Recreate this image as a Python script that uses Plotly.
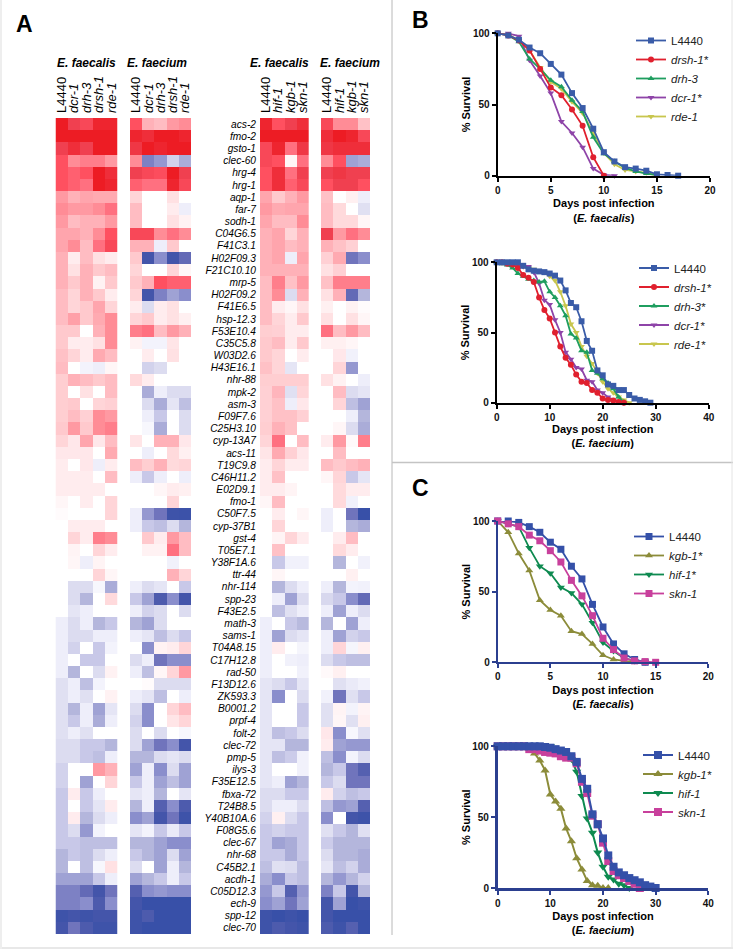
import plotly.graph_objects as go

W = 733
H = 949

genes = ['acs-2', 'fmo-2', 'gsto-1', 'clec-60', 'hrg-4', 'hrg-1', 'aqp-1', 'far-7', 'sodh-1', 'C04G6.5',
         'F41C3.1', 'H02F09.3', 'F21C10.10', 'mrp-5', 'H02F09.2', 'F41E6.5', 'hsp-12.3', 'F53E10.4', 'C35C5.8',
         'W03D2.6', 'H43E16.1', 'nhr-88', 'mpk-2', 'asm-3', 'F09F7.6', 'C25H3.10', 'cyp-13A7', 'acs-11',
         'T19C9.8', 'C46H11.2', 'E02D9.1', 'fmo-1', 'C50F7.5', 'cyp-37B1', 'gst-4', 'T05E7.1', 'Y38F1A.6',
         'ttr-44', 'nhr-114', 'spp-23', 'F43E2.5', 'math-3', 'sams-1', 'T04A8.15', 'C17H12.8', 'rad-50',
         'F13D12.6', 'ZK593.3', 'B0001.2', 'prpf-4', 'folt-2', 'clec-72', 'pmp-5', 'ilys-3', 'F35E12.5',
         'fbxa-72', 'T24B8.5', 'Y40B10A.6', 'F08G5.6', 'clec-67', 'nhr-68', 'C45B2.1', 'acdh-1', 'C05D12.3',
         'ech-9', 'spp-12', 'clec-70']

rnai_cols = ['L4440', 'dcr-1', 'drh-3', 'drsh-1', 'rde-1']
tf_cols = ['L4440', 'hif-1', 'kgb-1', 'skn-1']

# expression, -10 (blue) .. 10 (red)
faecalis_rnai = [
    [10, 8, 7.5, 9.5, 9.5], [10, 10, 10, 10, 10], [8, 9, 8, 10, 10], [7, 5, 5.5, 5.5, 4.5], [7, 6.5, 7, 10, 9],
    [7, 6.5, 6, 10, 9.5], [4.5, 3.5, 4, 3.8, 3.8], [5, 4.5, 4.5, 5, 6], [4.5, 3, 3.5, 3.5, 4.5], [4, 4, 3.5, 5, 7],
    [4, 5, 3, 6, 7.5], [3.5, 1, 3, 1.5, 1], [3.5, 1.5, 3.5, 2.5, 3], [3.5, 2.5, 3.5, 0.7, 2.5], [3, 2, 3.5, 2.5, 1],
    [3, 2, 2.5, 4, 2], [3, 4.2, 2.5, 3.8, 5], [2.5, 2.5, 0, 3.5, 5], [2.5, 1, 1, 1.5, 5], [2.8, 2, 1, 3.8, 3],
    [3, 0, -0.7, -1, 0.5], [2.3, 3.5, 3, 2.5, 3], [2.3, 0, 1.5, 0, 3], [2.3, 2.5, 0, 2, 2.2], [2.3, 3, 2.2, 5, 4.5],
    [2.5, 4.5, 2.5, 5, 5.5], [2, 1.2, 4, 1.2, 3], [1.2, 1.2, 1.2, 0, 3.8], [1, 0, 1.2, -1, 1], [1, 1, 1, 0, 3],
    [1, 1, 1, 1, 0], [0.5, 0, 1, 0, 2], [0.2, 0, 0, 0, 2], [0, 1, 1, 1, 0], [0, 2, 1, 5.5, 5],
    [0, 0.6, 0, 2, 1], [0, 0.5, -1, 0.6, 0], [0, 0, 0, 2, 0.5], [0, -2, -2, -0.5, -4.5], [0, -2, -4, 0, 1.8],
    [0, -1.5, -1, 0, 0], [-1, -2, -1, -4, -3], [-1, -2, -2, -1, -1], [-1, -2.5, 0, -3, -0.7], [-1, 0, -3, -3, 0],
    [-1, -4, 0, -2, 0.7], [-1.8, -1, -3.5, -0.7, 0], [-1.8, -1, -1.8, 0, 0.7], [-1.8, -4, -1, -5, -1.5],
    [-1.8, -3, -1, -4.5, -1], [-1.8, -1, -1.8, 0, 0], [-2, -2, -3, -3, -4], [-2, -2, -3, -3.5, -1],
    [-2.5, 0, 0, 4.5, 3.5], [-2.5, 0, -5, 0, 2], [-3, 1, -3, -1, 0], [-3, 0, -3, -1.5, 1], [-3, 1, -4, -2, -1],
    [-3, -2, -5.5, -0.7, 0], [-3, -3, -3.5, -3.5, -3.5], [-4, -3, -3.5, -2, -1], [-4, 0, -3.5, -0.5, 1.5],
    [-5, -5, -5, -3, -1], [-6.5, -6.5, -7.5, -9, -7], [-6.5, -6.5, -6, -8.5, -6], [-9.5, -9, -9.5, -9, -9],
    [-9, -7, -8.5, -9.5, -9.5]]

faecium_rnai = [
    [7, 3.5, 3, 4.5, 5], [9.5, 9, 10, 10, 9.5], [8.5, 10, 9.5, 10, 10], [5, -6.5, -5.5, -2.5, -4.5], [8, 7.5, 7.2, 10, 8],
    [6.5, 6, 6, 9.5, 7.5], [2, 0, 0, 1.5, 0], [3, 0, 0, 1, -1], [3, 0, 0, 1.5, 0.7], [7.5, 7.5, 5, 6, 5],
    [3.5, 3.5, -1, 2.5, 0], [2.5, -9, -6, -9, -7.5], [2, 0, 0, 2, 0.5], [2.5, 3.5, 7, 6.5, 6.5], [2, -9, -6.5, -5, -6],
    [1, -2, 1, 1.5, 0], [2, 2.5, 1, 1.5, 0.8], [5.5, 6, 3, 4.5, 3.5], [0.7, -0.7, -0.7, 1.3, 0], [0, 1, 0, 1.5, 0],
    [0, -2.5, -2, 0, 0], [1.8, 1, 0, 0, 0], [0, -4.5, -1, -2, -2], [0, -2, -4.5, -1.5, -3.5], [0, -1, -3, 0, -2],
    [0, -0.5, -4.5, 0, -2], [1.3, 0, 3.5, 3.5, 1.2], [0, -1, 0, 1.8, 0.8], [3, 2.3, 3.5, 1.8, 2], [-1, -3, -1, 0, -1],
    [0, 0, 0.5, 1, 0.8], [0, 0, 0, 2, 0], [-1, -5.5, -7, -9.5, -9.7], [-1, -3, -3.5, -2, -4], [0, 2.5, 1, 4.5, 3],
    [0, 0.7, 0.7, 6, 3], [0, 0, 0, -0.8, 0], [0, 0, 0, 3.5, 2], [-1, -2, -1.5, 0, -3], [-3, -5, -8.5, -6, -9],
    [-1, -2.5, -2, 0, -2], [-4, -5, -2, 0, 0], [-1, -1.5, -3.5, -2, -3], [0, -6, 0.7, 1, 2], [-2, -1, -7, -6, -6],
    [-1, -3.5, 0.5, 2, 4.5], [0, 0.2, -2, -2, -2], [-1, -1.5, -3.5, 0, -1], [-2, -6, 0, 2, 3], [-2.5, -6, 0, 1.3, 2],
    [-2, 0, -2, 0, -0.5], [-2, -5, -7, -6, -9], [-4, -4, -2, -1.5, -2], [-5, -1, -6, -2, -5], [-3, -1, -5, -3.5, -5],
    [-1.5, -1, -4, 0, -1.5], [-4, -1, -8, -6, -8.5], [-6, -5, -9, -7, -9.5], [-1.5, -0.7, -3, -1.2, -3],
    [-4, -4, -5, -6, -6], [-3, -4, -5, -2, -5], [-2, 0, -5, -1, -4], [-5, -4, -3, -1, -3], [-8, -6, -5.5, -6, -6],
    [-9, -10, -10, -10, -10], [-9.5, -8.5, -10, -10, -10], [-9.5, -10, -10, -10, -10]]

faecalis_tf = [
    [9.5, 7, 8, 9], [10, 10, 10, 10], [7.5, 9.5, 6, 8.5], [7.5, 7, 0.5, 6], [7, 9, 6, 8],
    [7, 9, 6.5, 7.5], [4, 2.5, 3.5, 4.5], [4.5, 3.8, 4, 4], [4, 3, 3, 5], [3.5, 4, 2, 3.5],
    [3.5, 4, 3, 3.5], [3.5, 4, -1, 4], [3.5, 3.5, 3.5, 3.5], [3, 5.5, 2.8, 4.5], [3, 5, -2, 3.5],
    [3, 1, 0.5, 1.5], [3, 2, 1, 2.5], [2.3, 2.2, 1, 1], [2.5, 3, 1, 2.5], [2.5, 2, 0, 1],
    [2.8, 2, -1.5, 0], [2.3, 2.3, 2.3, 2.3], [2.2, 3.3, -1.8, 2], [2.2, 2.8, -1, 1.2], [2.2, 2.8, 2.8, 2.2],
    [2.3, 3.5, 2.8, 0], [2, 6, 0, 3], [1.3, 3.8, 2.2, 1.2], [1, 2, 1, 1], [1, 2.8, 0, 0],
    [1, 1, 0.6, 0], [0.5, 3, 0, 0], [0, 1, 0, 0.5], [0, 2, 0, 0], [0, 0.6, 2, 1],
    [0, 2.8, 0, 0], [0, -3, -0.8, -0.8], [0, 0.5, 0, 0], [0, -4, -2, -1], [0, -1, -5, -2],
    [0, -3.5, -1.8, -1], [-1, 0, -3, -3.8], [-1, -5, -2, -1.5], [-1, 1, 0, -0.6], [-1, 0, -0.8, -1],
    [-1, 0, 0, -0.8], [-1.5, -2, -3, -1.5], [-1.5, -6, 0, -2], [-1.5, 0, 0, -3], [-1.5, 0, 0, -3],
    [-1.5, -3.5, -3, -2], [-1.5, -1.5, -4, -4], [-1.5, -3.5, -2.8, -0.8], [-1.5, 0, 0, -0.8], [-1.5, -1, -5, -4],
    [-2, -2, -3, -3], [-2, -1, -1, -2], [-2.5, 0.8, -2, -3], [-3, -2.5, -3, -3], [-3, -5, -4.5, -3],
    [-3, -3, -4.5, -3], [-3.5, -1.8, -2, -3.5], [-4.5, -6, -3, -3.5], [-5.5, -3, -8, -5.5], [-6, -5, -7, -5],
    [-9.5, -10, -9.5, -10], [-9.5, -8.5, -9, -9.5]]

faecium_tf = [
    [7.5, 5, 5, 2.8], [9, 10, 9.5, 7.5], [8.5, 9, 9, 9], [5, 7, -5, -4.5], [8, 8.5, 8, 8],
    [7, 8, 8, 7], [2.8, 0, 0.8, -1], [3, 1.8, 0, -1.8], [3, 1.8, 1.8, 0.5], [8, 4.5, 6, 5],
    [3.5, 2.8, 2.2, 0], [2.2, 3.8, -7, -6], [1.5, 2.2, 0, 0], [2.8, 5.5, 5.5, 5.5], [1.5, 3.5, -7.5, -4],
    [0.8, 0, 0.7, 0.2], [1.5, 0, 1.5, 0.5], [6, 3, 4.5, 3], [0.8, 0.8, 0.5, 0], [0, 1.2, -0.8, 0],
    [0, 2, -5.5, 0], [1.5, 0.7, 0, -1], [0, 3, -2, -1.5], [0, 2, -3.5, -5], [0, 0, -1, -4],
    [0, 0.5, -2, -4.5], [1, 4.5, 0.3, 5.5], [0, 3, 0, 0], [3, 2.5, 3, 3.5], [0.5, 2, -3, -1.5],
    [0, 1.8, 1, 1], [0, 1.8, -0.8, 0], [-1, 0, -7, -10], [-1, 0, -4, -4.5], [0, 1, 3, 0],
    [0, 1.8, 1, 0], [0, -4, 0, -0.8], [0, 0, 0.8, 0], [-1, -4, -0.7, -0.8], [-2.2, -3, -6, -7.5],
    [-1, -5, -1, -2], [-4, 0, -5, -1], [-1, -5, -2.5, -3], [-1, 2, -0.6, 0.8], [-2, -3, -3.5, -3.5],
    [0.3, 0.8, 0, 0], [0, -1.8, -1.2, -0.8], [-0.8, -7, -1.8, -3], [-1.8, 0.6, -0.7, 0.6], [-1.8, 0.5, -1.8, 0.8],
    [1.2, -6, -0.5, -1.8], [1, -5, -5.5, -5.5], [-3.5, -6, -0.7, -2], [-4, -3, -7, -8], [-3, -2, -7, -7],
    [1, -2.5, -3.5, -3], [-3.5, -5.5, -5, -8], [-6, 0, -9, -9.5], [-1.8, -3, -4, -1.8], [-2.8, -4, -4, -4],
    [-2, -4, -4, -4.5], [-1.5, -3.5, -2.5, -4.5], [-4, -5.5, -4, -2.5], [-6.5, -3, -9, -4], [-9, -5, -10, -9.5],
    [-9, -10, -10, -10], [-8.5, -9.5, -8, -10]]

# survival curves, one value per day from day 0
b1_l4440 = [100, 98.5, 95.5, 90, 86, 78.5, 71, 58, 47.5, 33, 16.5, 10, 6, 5, 3.5, 1, 0.5, 0]
b1_drsh = [100, 98.5, 95, 88, 75, 62, 56.5, 46.5, 35, 13, 0]
b1_drh3 = [100, 98.5, 94, 82, 75, 67, 62.5, 53, 45, 27, 15.5, 10, 5.5, 3, 1.5, 0.5]
b1_dcr = [100, 100, 98, 81, 70, 58, 38, 30, 20, 5, 0.5, 0]
b1_rde = [100, 99, 95, 88, 76, 66, 61, 52, 44, 30, 16, 8, 4, 3, 2, 0]

b2_l4440 = [100, 100, 100, 100, 100, 97.5, 95, 94, 93.5, 93, 92, 90.5, 87, 80, 71, 68, 58, 44, 37, 23, 19.5, 13, 12, 9, 9,
            5.5, 3, 2, 1, 0]
b2_drsh = [100, 100, 99, 98.5, 96, 91, 89, 86, 75, 66, 60, 50, 40, 32, 27, 20, 15, 14, 9, 7, 3, 2, 1.5, 0.5, 0]
b2_drh3 = [100, 99, 98, 96, 92, 90, 88, 87, 86, 86.5, 79, 75, 69, 62, 49, 46, 37, 36, 23, 21, 17, 14, 10, 4, 0.5]
b2_dcr = [100, 100, 100, 99, 98, 97, 97, 93, 85, 73, 70, 59, 50, 36, 31, 25, 24, 16, 15, 9, 7, 4, 2, 1, 0]
b2_rde = [100, 100, 100, 99, 98, 97, 96, 95, 94, 93, 90, 87, 79, 69, 56, 50, 40, 33, 28, 21, 15, 10, 7, 4, 2, 0]

c1_l4440 = [100, 100, 99, 96, 92, 85, 80, 68, 59, 41, 25, 13, 6, 2, 0]
c1_kgb = [100, 92, 77, 65, 44, 37, 33, 22, 20, 13, 5, 2, 1, 0]
c1_hif = [100, 98, 96, 81, 68, 63, 53, 49, 41, 28, 14, 8, 3, 1, 0]
c1_skn = [100, 98, 96, 90, 86, 79, 71, 58, 47, 33, 17, 9, 3, 1, 0.5, 0]

c2_l4440 = [100, 100, 100, 100, 100, 100, 100, 100, 100, 99.5, 99, 98, 97, 96, 93, 89, 77, 70, 52, 45, 35, 23, 15, 11, 9,
            7, 5.5, 4, 2, 1, 0]
c2_kgb = [100, 100, 100, 100, 100, 100, 98.5, 95, 90, 83, 66, 61, 56, 42, 33, 21, 13, 5, 2, 1.5, 0, 0]
c2_hif = [100, 100, 100, 100, 100, 100, 100, 100, 100, 100, 100, 98, 96.5, 94, 91, 82, 65, 49, 39, 25, 15, 8, 6, 3, 2, 0]
c2_skn = [100, 100, 100, 100, 100, 100, 98, 98, 97, 96, 95.5, 95, 93, 92, 92, 88, 75, 67, 51, 45, 32, 19, 12, 9, 7, 5, 3, 0]

colorscale = [[0.0, '#3850a8'], [0.05, '#4455aa'], [0.1, '#5560b0'], [0.15, '#7074bc'], [0.2, '#8a8ecc'],
              [0.25, '#9fa2d4'], [0.3, '#b4b6dc'], [0.35, '#c8c8e8'], [0.4, '#dcdcf0'], [0.45, '#eeeefa'],
              [0.5, '#ffffff'], [0.55, '#ffecee'], [0.6, '#ffd5d8'], [0.65, '#ffbcc2'], [0.7, '#ffa5ad'],
              [0.75, '#ff8c96'], [0.8, '#ff7080'], [0.85, '#ff5060'], [0.9, '#f04050'], [1.0, '#ed1c24']]


def px_x(x):
    return x / W


def px_y(y):
    return 1 - y / H


def ital(name):
    return name if name == 'L4440' else '<i>' + name + '</i>'


fig = go.Figure()
layout = {}
FONT = 'Liberation Sans, Arial, sans-serif'

heatmaps = [
    (faecalis_rnai, rnai_cols, 55.5, 117.5, False),
    (faecium_rnai, rnai_cols, 130, 191, False),
    (faecalis_tf, tf_cols, 260, 308.7, True),
    (faecium_tf, tf_cols, 321, 370, False),
]

for i, (z, cols, x0, x1, show_genes) in enumerate(heatmaps):
    n = i + 1
    suffix = '' if n == 1 else str(n)
    fig.add_trace(go.Heatmap(z=z, x=cols, y=genes, xaxis='x' + suffix, yaxis='y' + suffix,
                             colorscale=colorscale, zmin=-10, zmax=10, showscale=False))
    layout['xaxis' + suffix] = dict(domain=[px_x(x0), px_x(x1)], anchor='y' + suffix, side='top', type='category',
                                    tickvals=cols, ticktext=[ital(c) for c in cols], tickangle=-90,
                                    tickfont=dict(size=13, color='black', family=FONT), ticklen=0,
                                    showgrid=False, zeroline=False, showline=False, ticklabelstandoff=4)
    layout['yaxis' + suffix] = dict(domain=[px_y(934), px_y(118)], anchor='x' + suffix, type='category',
                                    autorange='reversed', showgrid=False, zeroline=False, showline=False,
                                    showticklabels=show_genes, tickmode='array', tickvals=genes,
                                    ticktext=[ital(g) for g in genes], ticklen=0, ticklabelstandoff=3,
                                    tickfont=dict(size=10.2, color='black', family=FONT))

# survival panels
BLUE_B = '#3a5ca8'
RED = '#e0202e'
GREEN = '#1f9e5f'
PURPLE = '#8e44a8'
YELLOW = '#c8c64e'
BLUE_C = '#3450a8'
OLIVE = '#8c8c3a'
DKGREEN = '#0e8a50'
MAGENTA = '#c8409c'

panels = [
    dict(box=(497.7, 710, 175.7, 33.3), xmax=20, dtick=5, line='black', species='E. faecalis', legend=(631, 26), standoff=5,
         msize=6, lw=1.8, axw=2,
         series=[('rde-1', b1_rde, YELLOW, 'triangle-down', 5), ('dcr-1*', b1_dcr, PURPLE, 'triangle-down', 4),
                 ('drh-3', b1_drh3, GREEN, 'triangle-up', 3), ('drsh-1*', b1_drsh, RED, 'circle', 2),
                 ('L4440', b1_l4440, BLUE_B, 'square', 1)]),
    dict(box=(496.7, 708.7, 402.7, 262.3), xmax=40, dtick=10, line='black', species='E. faecium', legend=(634, 253.5), standoff=2,
         msize=6, lw=1.8, axw=2,
         series=[('rde-1*', b2_rde, YELLOW, 'triangle-down', 5), ('dcr-1*', b2_dcr, PURPLE, 'triangle-down', 4),
                 ('drh-3*', b2_drh3, GREEN, 'triangle-up', 3), ('drsh-1*', b2_drsh, RED, 'circle', 2),
                 ('L4440', b2_l4440, BLUE_B, 'square', 1)]),
    dict(box=(497.7, 708.3, 662.3, 521), xmax=20, dtick=5, line='#2b3f8f', species='E. faecalis', legend=(629, 522), standoff=5,
         msize=7, lw=1.8, axw=2,
         series=[('kgb-1*', c1_kgb, OLIVE, 'triangle-up', 2), ('hif-1*', c1_hif, DKGREEN, 'triangle-down', 3),
                 ('L4440', c1_l4440, BLUE_C, 'square', 1), ('skn-1', c1_skn, MAGENTA, 'square', 4)]),
    dict(box=(497.7, 708.3, 888, 746.3), xmax=40, dtick=10, line='#2b3f8f', species='E. faecium', legend=(638, 740.5), standoff=5,
         msize=8, lw=2, axw=2.5,
         series=[('kgb-1*', c2_kgb, OLIVE, 'triangle-up', 2), ('hif-1', c2_hif, DKGREEN, 'triangle-down', 3),
                 ('skn-1', c2_skn, MAGENTA, 'square', 4), ('L4440', c2_l4440, BLUE_C, 'square', 1)]),
]

for i, p in enumerate(panels):
    n = i + 5
    x0, x1, y0, y1 = p['box']
    legend_name = 'legend' if i == 0 else 'legend' + str(i + 1)
    for name, values, color, symbol, rank in p['series']:
        fig.add_trace(go.Scatter(x=list(range(len(values))), y=values, mode='lines+markers', name=ital(name),
                                 xaxis='x' + str(n), yaxis='y' + str(n), cliponaxis=False, legend=legend_name,
                                 legendrank=rank, line=dict(color=color, width=p['lw']),
                                 marker=dict(color=color, symbol=symbol, size=p['msize'])))
    layout['xaxis' + str(n)] = dict(domain=[px_x(x0), px_x(x1)], anchor='y' + str(n), range=[0, p['xmax']],
                                    dtick=p['dtick'], tick0=0, showgrid=False, zeroline=False, showline=True,
                                    linecolor=p['line'], linewidth=p['axw'], ticks='outside', ticklen=4, tickwidth=1.5,
                                    tickcolor=p['line'],
                                    tickfont=dict(size=10, color='#111111', family=FONT, weight='bold'),
                                    title=dict(text='<b>Days post infection</b><br><b>(<i>' + p['species'] + '</i>)</b>',
                                               font=dict(size=11, color='black', family=FONT), standoff=p['standoff']))
    layout['yaxis' + str(n)] = dict(domain=[px_y(y0), px_y(y1)], anchor='x' + str(n), range=[0, 100],
                                    tickvals=[0, 50, 100], showgrid=False, zeroline=False, showline=True,
                                    linecolor=p['line'], linewidth=p['axw'], ticks='outside', ticklen=4, tickwidth=1.5,
                                    tickcolor=p['line'],
                                    tickfont=dict(size=10, color='#111111', family=FONT, weight='bold'),
                                    title=dict(text='<b>% Survival</b>', standoff=0,
                                               font=dict(size=11, color='black', family=FONT)))
    layout[legend_name] = dict(x=px_x(p['legend'][0]), y=px_y(p['legend'][1]), xanchor='left', yanchor='top',
                               bgcolor='rgba(0,0,0,0)', font=dict(size=11.5, color='#222222', family=FONT),
                               traceorder='normal', itemclick=False)

annotations = []
for text, x, y, size in [('<b>A</b>', 14, 24, 23), ('<b>B</b>', 410, 20, 23), ('<b>C</b>', 410, 488, 23)]:
    annotations.append(dict(text=text, x=px_x(x), y=px_y(y), xref='paper', yref='paper', xanchor='left', yanchor='middle',
                            showarrow=False, font=dict(size=size, color='black', family=FONT)))
for text, x0, x1 in [('E. faecalis', 55.5, 117.5), ('E. faecium', 122, 191), ('E. faecalis', 250, 308.7), ('E. faecium', 320, 380)]:
    annotations.append(dict(text='<b><i>' + text + '</i></b>', x=px_x((x0 + x1) / 2), y=px_y(63), xref='paper', yref='paper',
                            xanchor='center', yanchor='middle', showarrow=False,
                            font=dict(size=12, color='black', family=FONT)))

shapes = [
    dict(type='line', xref='paper', yref='paper', x0=px_x(392), x1=px_x(392), y0=px_y(0), y1=px_y(935),
         line=dict(color='#b8b8b8', width=1)),
    dict(type='line', xref='paper', yref='paper', x0=px_x(392), x1=px_x(733), y0=px_y(462.5), y1=px_y(462.5),
         line=dict(color='#c4c4c4', width=1.5)),
    dict(type='line', xref='paper', yref='paper', x0=px_x(732), x1=px_x(732), y0=px_y(0), y1=px_y(949),
         line=dict(color='#e4e4e4', width=1)),
    dict(type='line', xref='paper', yref='paper', x0=px_x(0), x1=px_x(733), y0=px_y(948), y1=px_y(948),
         line=dict(color='#e8e8e8', width=2)),
    dict(type='line', xref='paper', yref='paper', x0=px_x(1), x1=px_x(1), y0=px_y(0), y1=px_y(949),
         line=dict(color='#eeeeee', width=2)),
]

fig.update_layout(width=W, height=H, margin=dict(l=0, r=0, t=0, b=0, autoexpand=False), plot_bgcolor='white',
                  paper_bgcolor='white', annotations=annotations, shapes=shapes, hovermode=False, **layout)

fig.write_html("out.html", config={'displayModeBar': False}, post_script="document.body.style.margin='0';")
